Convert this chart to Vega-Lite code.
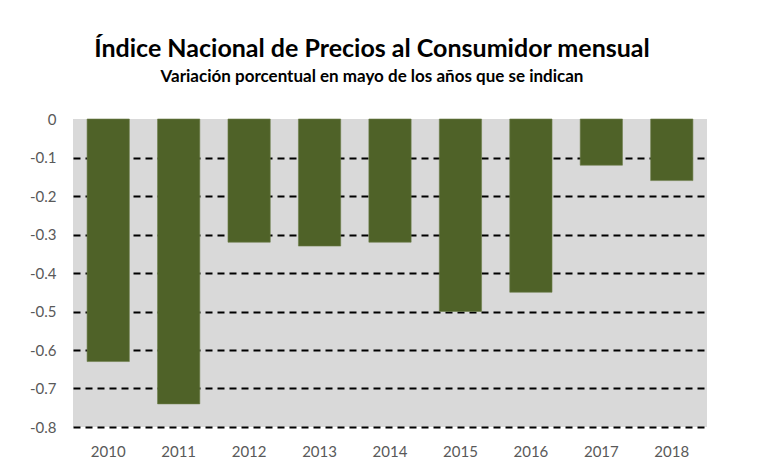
{
  "$schema": "https://vega.github.io/schema/vega-lite/v6.json",
  "width": 634,
  "height": 308,
  "autosize": {"type": "none"},
  "padding": {"left": 73, "top": 119, "right": 50, "bottom": 49},
  "background": "white",
  "title": {
    "text": "Índice Nacional de Precios al Consumidor mensual",
    "subtitle": "Variación porcentual en mayo de los años que se indican",
    "anchor": "middle",
    "frame": "group",
    "dx": -18,
    "offset": 27,
    "font": "Lato",
    "fontSize": 25,
    "fontWeight": "bold",
    "color": "#000000",
    "subtitleFont": "Lato",
    "subtitleFontSize": 17,
    "subtitleFontWeight": "bold",
    "subtitleColor": "#000000",
    "subtitlePadding": 7
  },
  "data": {
    "values": [
      {"year": "2010", "value": -0.63},
      {"year": "2011", "value": -0.74},
      {"year": "2012", "value": -0.32},
      {"year": "2013", "value": -0.33},
      {"year": "2014", "value": -0.32},
      {"year": "2015", "value": -0.50},
      {"year": "2016", "value": -0.45},
      {"year": "2017", "value": -0.12},
      {"year": "2018", "value": -0.16}
    ]
  },
  "mark": {"type": "bar", "color": "#4f6228", "stroke": "#6b7d4a", "strokeWidth": 0.6},
  "encoding": {
    "x": {
      "field": "year",
      "type": "nominal",
      "scale": {"paddingInner": 0.4, "paddingOuter": 0.2},
      "axis": {
        "title": null,
        "labelAngle": 0,
        "labelFont": "Lato",
        "labelFontSize": 15,
        "labelColor": "#595959",
        "labelPadding": 17,
        "ticks": false,
        "domain": false,
        "grid": false
      }
    },
    "y": {
      "field": "value",
      "type": "quantitative",
      "scale": {"domain": [-0.8, 0], "nice": false},
      "axis": {
        "title": null,
        "values": [0, -0.1, -0.2, -0.3, -0.4, -0.5, -0.6, -0.7, -0.8],
        "labelExpr": "'' + datum.value",
        "labelFont": "Lato",
        "labelFontSize": 15,
        "labelColor": "#595959",
        "labelPadding": 17,
        "ticks": false,
        "domain": false,
        "grid": true,
        "gridColor": {"condition": {"test": "datum.value === 0", "value": "transparent"}, "value": "#000000"},
        "gridDash": [7, 5],
        "gridWidth": 2,
        "gridOpacity": 1,
        "zindex": 0
      }
    }
  },
  "config": {
    "view": {"fill": "#d9d9d9", "stroke": null}
  }
}
